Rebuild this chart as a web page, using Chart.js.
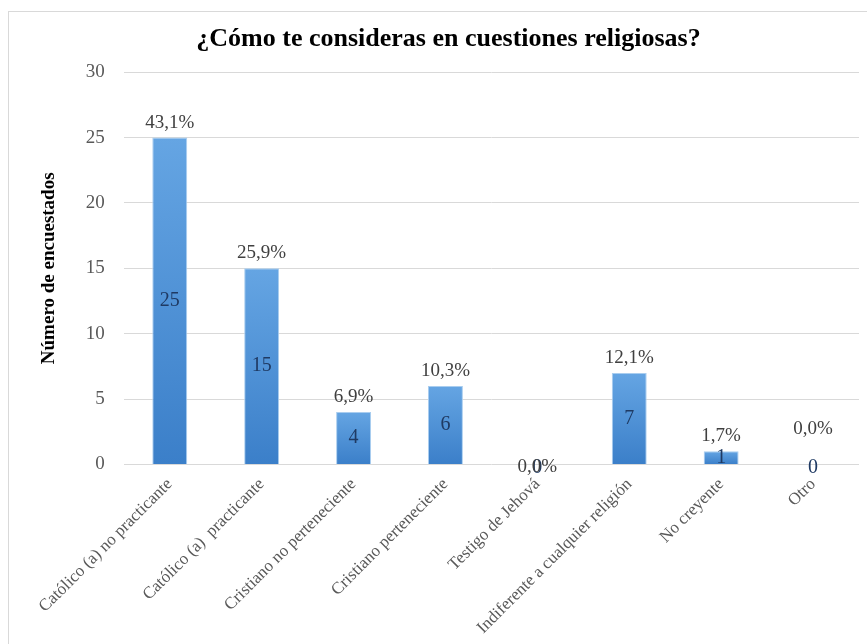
<!DOCTYPE html>
<html>
<head>
<meta charset="utf-8">
<script src="https://cdn.jsdelivr.net/npm/chart.js@4.4.1/dist/chart.umd.min.js"></script>
<style>
  html, body { margin: 0; padding: 0; background: #fff; overflow: hidden; }
  #frame { position: absolute; left: 8px; top: 11px; width: 900px; height: 700px; border: 1px solid #d9d9d9; }
  #wrap { position: absolute; left: 0; top: 0; width: 867px; height: 644px; }
</style>
</head>
<body>
<div id="frame"></div>
<div id="wrap"><canvas id="chart"></canvas></div>
<script>
const categories = [
  'Católico (a) no practicante',
  'Católico (a)  practicante',
  'Cristiano no perteneciente',
  'Cristiano perteneciente',
  'Testigo de Jehová',
  'Indiferente a cualquier religión',
  'No creyente',
  'Otro'
];
const values = [25, 15, 4, 6, 0, 7, 1, 0];
const pctLabels = ['43,1%', '25,9%', '6,9%', '10,3%', '0,0%', '12,1%', '1,7%', '0,0%'];
const yTicks = [0, 5, 10, 15, 20, 25, 30];

const serif = "'Liberation Serif', 'Times New Roman', serif";

// gradient per bar, light on top and darker at the base
function barGradient(ctx) {
  const chart = ctx.chart;
  const y = chart.scales.y;
  if (!y || ctx.dataIndex === undefined) return '#4a8fd6';
  const top = y.getPixelForValue(values[ctx.dataIndex]);
  const bottom = y.getPixelForValue(0);
  if (!isFinite(top) || !isFinite(bottom) || top === bottom) return '#4a8fd6';
  const g = chart.ctx.createLinearGradient(0, top, 0, bottom);
  g.addColorStop(0, '#65a5e3');
  g.addColorStop(1, '#3b7fc9');
  return g;
}

const labelPlugin = {
  id: 'barLabels',
  afterDatasetsDraw(chart) {
    const ctx = chart.ctx;
    const meta = chart.getDatasetMeta(0);
    ctx.save();
    ctx.textAlign = 'center';
    meta.data.forEach((bar, i) => {
      // value inside the bar
      ctx.font = '20px ' + serif;
      ctx.fillStyle = '#1f3a63';
      ctx.textBaseline = 'middle';
      const vy = values[i] === 0 ? bar.base + 3 : (bar.y + bar.base) / 2;
      ctx.fillText(String(values[i]), bar.x, vy);

      // percentage above the bar
      ctx.font = '19px ' + serif;
      ctx.fillStyle = '#404040';
      let py = bar.y - 15;
      if (values[i] === 0) py = i === values.length - 1 ? bar.base - 35 : bar.base + 3;
      ctx.fillText(pctLabels[i], bar.x, py);
    });
    ctx.restore();
  }
};

new Chart(document.getElementById('chart'), {
  type: 'bar',
  data: {
    labels: categories,
    datasets: [{
      data: values,
      backgroundColor: barGradient,
      borderColor: '#a9cdef',
      borderWidth: 1,
      barPercentage: 0.38,
      categoryPercentage: 1
    }]
  },
  options: {
    responsive: true,
    maintainAspectRatio: false,
    animation: false,
    layout: { padding: { left: 38, right: 8, top: 0, bottom: 4 } },
    plugins: {
      legend: { display: false },
      tooltip: { enabled: false },
      title: {
        display: true,
        text: '¿Cómo te consideras en cuestiones religiosas?',
        color: '#000',
        font: { family: serif, size: 26, weight: 'bold' },
        padding: { top: 24, bottom: 17 }
      }
    },
    scales: {
      x: {
        grid: { display: false },
        border: { display: false },
        ticks: {
          color: '#595959',
          font: { family: serif, size: 17 },
          maxRotation: 45,
          minRotation: 45,
          autoSkip: false,
          padding: 2
        }
      },
      y: {
        min: 0,
        max: 30,
        afterBuildTicks(axis) { axis.ticks = yTicks.map(v => ({ value: v })); },
        grid: { color: '#d9d9d9', lineWidth: 1, drawTicks: false },
        border: { display: false },
        ticks: {
          color: '#595959',
          font: { family: serif, size: 19 },
          padding: 19
        },
        title: {
          display: true,
          text: 'Número de encuestados',
          color: '#000',
          font: { family: serif, size: 19, weight: 'bold' },
          padding: { top: 0, bottom: 6 }
        }
      }
    }
  },
  plugins: [labelPlugin]
});
</script>
</body>
</html>
